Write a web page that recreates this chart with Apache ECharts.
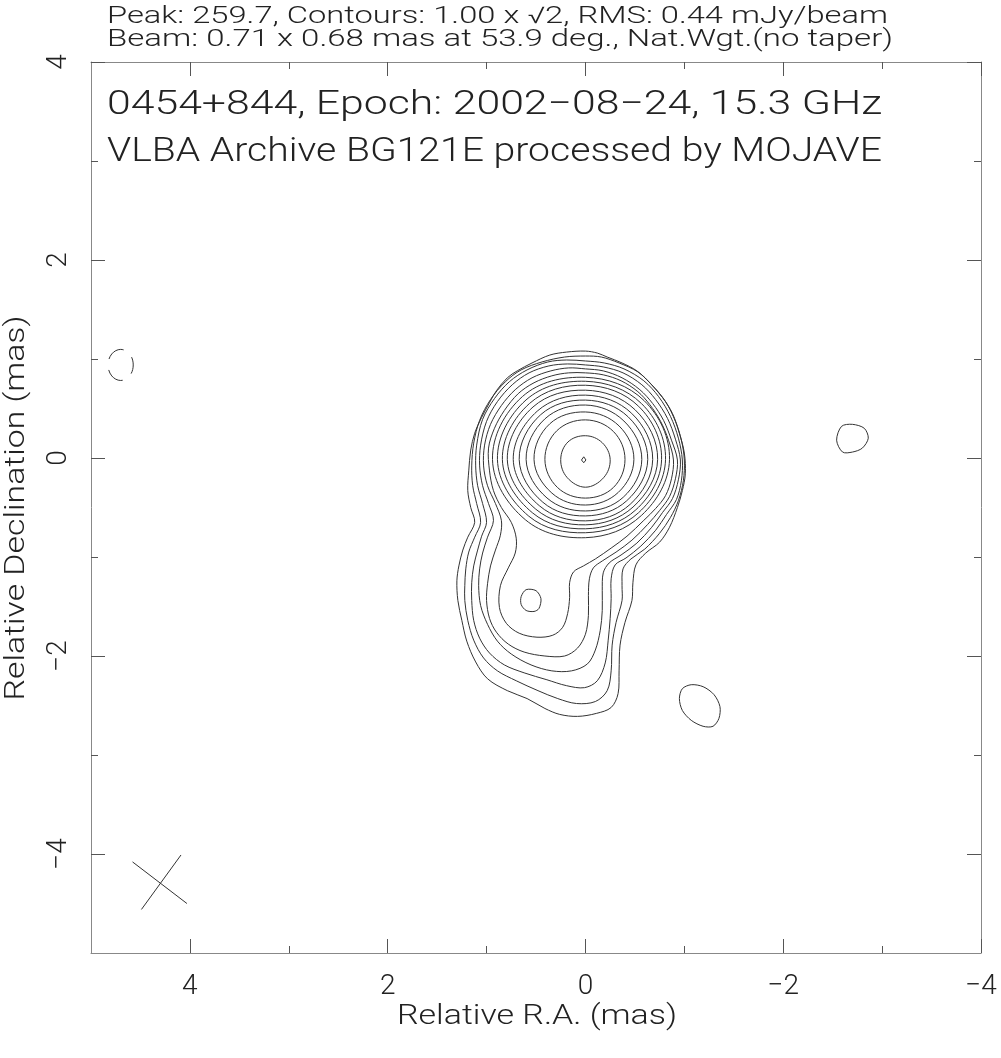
<!DOCTYPE html>
<html><head><meta charset="utf-8">
<script src="https://cdn.jsdelivr.net/npm/echarts@6/dist/echarts.min.js"></script>
<style>html,body{margin:0;padding:0;background:#fff}#c{width:1001px;height:1058px}</style>
</head><body><div id="c"></div>
<script>
// ---- axis ticks / labels ----
const majorTicks = [-4, -2, 0, 2, 4];
const minorTicks = [-3, -1, 1, 3];

// ---- texts ----
const headerLine1 = 'Peak: 259.7, Contours: 1.00 x \u221A2, RMS: 0.44 mJy/beam';
const headerLine2 = 'Beam: 0.71 x 0.68 mas at 53.9 deg., Nat.Wgt.(no taper)';
const innerLine1 = '0454+844, Epoch: 2002\u221208\u221224, 15.3 GHz';
const innerLine2 = 'VLBA Archive BG121E processed by MOJAVE';
const xName = 'Relative R.A. (mas)';
const yName = 'Relative Declination (mas)';

// ---- contour levels (mJy/beam) ----
const ringLevels = [181, 128, 90.5, 64, 45, 32, 22.6, 16, 11.3, 8];
// core ring radii (mas) read in image directions E, NE, N, NW, W, SW, S, SE
const ringCenter = [0.0, -0.015];
const ringRadii = [
  [0.25,0.24,0.24,0.25,0.25,0.26,0.28,0.26],
  [0.40,0.40,0.40,0.41,0.41,0.40,0.39,0.40],
  [0.49,0.48,0.48,0.51,0.52,0.48,0.46,0.47],
  [0.57,0.55,0.55,0.58,0.60,0.55,0.52,0.54],
  [0.63,0.61,0.60,0.64,0.67,0.61,0.57,0.59],
  [0.68,0.66,0.65,0.69,0.73,0.66,0.62,0.64],
  [0.73,0.71,0.70,0.75,0.79,0.71,0.66,0.68],
  [0.77,0.76,0.75,0.80,0.84,0.76,0.70,0.72],
  [0.81,0.80,0.79,0.85,0.89,0.81,0.74,0.76],
  [0.85,0.84,0.83,0.90,0.94,0.86,0.79,0.80]
];
// peak contour 256
const peakContour = [[0.04,-0.02],[0.017,0.012],[-0.005,-0.02],[0.017,-0.048]];
// jet component local contour (8)
const jetContour = [[0.60,-1.33],[0.50,-1.34],[0.45,-1.42],[0.47,-1.52],[0.52,-1.55],[0.60,-1.54],[0.65,-1.48],[0.65,-1.40]];

// envelope contours enclosing core + jet
const contour5_66 = [[0.00,0.86],[-0.18,0.84],[-0.36,0.78],[-0.53,0.67],[-0.65,0.54],[-0.76,0.37],[-0.84,0.18],[-0.89,-0.02],[-0.87,-0.21],[-0.81,-0.38],[-0.71,-0.51],[-0.59,-0.63],[-0.42,-0.79],[-0.26,-0.91],[-0.10,-1.02],[0.02,-1.09],[0.12,-1.15],[0.16,-1.26],[0.16,-1.41],[0.18,-1.57],[0.23,-1.71],[0.33,-1.79],[0.49,-1.81],[0.67,-1.77],[0.80,-1.67],[0.87,-1.51],[0.86,-1.29],[0.78,-1.11],[0.71,-0.96],[0.70,-0.81],[0.75,-0.65],[0.85,-0.50],[0.93,-0.33],[0.97,-0.13],[0.98,0.10],[0.92,0.30],[0.82,0.48],[0.68,0.65],[0.52,0.76],[0.34,0.83],[0.17,0.86]];
const contour4 = [[0.00,0.90],[-0.18,0.88],[-0.37,0.81],[-0.55,0.69],[-0.68,0.55],[-0.79,0.38],[-0.87,0.18],[-0.93,-0.02],[-0.91,-0.21],[-0.85,-0.39],[-0.75,-0.53],[-0.63,-0.67],[-0.47,-0.83],[-0.31,-0.95],[-0.17,-1.04],[-0.08,-1.11],[-0.04,-1.22],[-0.03,-1.39],[-0.03,-1.59],[0.00,-1.78],[0.08,-1.92],[0.21,-2.00],[0.41,-2.00],[0.62,-1.96],[0.78,-1.88],[0.90,-1.76],[0.97,-1.62],[1.00,-1.44],[0.99,-1.27],[0.96,-1.09],[0.91,-0.93],[0.86,-0.78],[0.85,-0.63],[0.91,-0.46],[0.99,-0.28],[1.03,-0.08],[1.02,0.13],[0.96,0.34],[0.85,0.53],[0.71,0.69],[0.54,0.81],[0.35,0.88],[0.17,0.91]];
const contour2_83 = [[0.00,0.94],[-0.18,0.92],[-0.38,0.86],[-0.57,0.74],[-0.71,0.59],[-0.83,0.40],[-0.91,0.19],[-0.96,-0.02],[-0.94,-0.22],[-0.88,-0.41],[-0.78,-0.55],[-0.67,-0.70],[-0.52,-0.86],[-0.36,-0.98],[-0.24,-1.06],[-0.18,-1.16],[-0.17,-1.34],[-0.17,-1.54],[-0.15,-1.74],[-0.10,-1.94],[-0.02,-2.08],[0.14,-2.15],[0.34,-2.15],[0.55,-2.09],[0.75,-1.98],[0.89,-1.85],[0.99,-1.68],[1.06,-1.49],[1.08,-1.29],[1.07,-1.12],[1.04,-0.96],[0.99,-0.80],[0.93,-0.63],[0.98,-0.46],[1.04,-0.28],[1.07,-0.08],[1.06,0.13],[1.00,0.37],[0.89,0.57],[0.74,0.74],[0.57,0.86],[0.37,0.93],[0.18,0.95]];
const contour2 = [[0.00,0.98],[-0.19,0.96],[-0.39,0.90],[-0.59,0.78],[-0.74,0.62],[-0.86,0.42],[-0.94,0.20],[-0.98,-0.02],[-0.97,-0.23],[-0.92,-0.42],[-0.82,-0.57],[-0.71,-0.73],[-0.56,-0.89],[-0.41,-1.01],[-0.30,-1.08],[-0.26,-1.22],[-0.26,-1.42],[-0.25,-1.62],[-0.23,-1.84],[-0.20,-2.07],[-0.12,-2.25],[0.01,-2.32],[0.19,-2.30],[0.39,-2.24],[0.62,-2.17],[0.82,-2.09],[0.97,-1.97],[1.07,-1.82],[1.13,-1.64],[1.15,-1.44],[1.15,-1.26],[1.13,-1.09],[1.09,-0.93],[1.05,-0.79],[1.00,-0.65],[1.04,-0.46],[1.09,-0.28],[1.11,-0.08],[1.10,0.13],[1.04,0.39],[0.92,0.60],[0.77,0.77],[0.59,0.89],[0.38,0.97],[0.19,0.99]];
const contour1_41 = [[0.00,1.03],[-0.16,1.02],[-0.34,0.96],[-0.53,0.87],[-0.67,0.74],[-0.81,0.57],[-0.91,0.37],[-0.97,0.18],[-1.00,-0.02],[-0.99,-0.23],[-0.94,-0.43],[-0.86,-0.60],[-0.75,-0.76],[-0.60,-0.92],[-0.46,-1.02],[-0.38,-1.12],[-0.37,-1.29],[-0.37,-1.44],[-0.31,-1.66],[-0.27,-1.89],[-0.26,-2.15],[-0.22,-2.35],[-0.10,-2.46],[0.09,-2.48],[0.28,-2.43],[0.48,-2.35],[0.70,-2.25],[0.89,-2.15],[1.03,-2.02],[1.13,-1.84],[1.19,-1.64],[1.22,-1.44],[1.22,-1.29],[1.21,-1.12],[1.18,-0.95],[1.12,-0.80],[1.06,-0.65],[1.10,-0.46],[1.14,-0.28],[1.15,-0.08],[1.13,0.15],[1.07,0.38],[0.96,0.59],[0.81,0.77],[0.65,0.89],[0.44,0.97],[0.21,1.02]];
const contour1 = [[0.00,1.08],[-0.12,1.06],[-0.22,1.02],[-0.37,0.96],[-0.52,0.88],[-0.65,0.76],[-0.78,0.61],[-0.88,0.45],[-0.95,0.25],[-1.00,0.05],[-1.01,-0.16],[-0.98,-0.33],[-0.93,-0.50],[-0.85,-0.70],[-0.75,-0.85],[-0.61,-0.96],[-0.51,-1.08],[-0.48,-1.26],[-0.47,-1.44],[-0.40,-1.66],[-0.35,-1.89],[-0.34,-2.15],[-0.33,-2.38],[-0.26,-2.52],[-0.11,-2.58],[0.08,-2.61],[0.26,-2.59],[0.41,-2.53],[0.59,-2.43],[0.79,-2.35],[0.99,-2.23],[1.11,-2.06],[1.20,-1.85],[1.25,-1.64],[1.29,-1.44],[1.30,-1.24],[1.28,-1.09],[1.24,-0.93],[1.19,-0.80],[1.12,-0.65],[1.16,-0.50],[1.19,-0.33],[1.18,-0.13],[1.16,0.08],[1.12,0.25],[1.05,0.41],[0.97,0.56],[0.90,0.68],[0.79,0.81],[0.69,0.88],[0.54,0.96],[0.36,1.04],[0.19,1.07]];

// isolated 1 mJy/beam islands
const islandEast = [[-2.59,0.32],[-2.70,0.34],[-2.82,0.30],[-2.86,0.20],[-2.80,0.10],[-2.70,0.06],[-2.60,0.06],[-2.54,0.18]];
const islandSouth = [[-1.07,-2.29],[-1.19,-2.31],[-1.30,-2.39],[-1.36,-2.51],[-1.35,-2.63],[-1.29,-2.71],[-1.19,-2.71],[-1.07,-2.65],[-0.98,-2.55],[-0.95,-2.43],[-0.98,-2.33]];
// negative contour (-1 mJy/beam), dashed
const negContour = [[4.573,0.94],[4.61,1.051],[4.70,1.097],[4.79,1.051],[4.827,0.94],[4.79,0.829],[4.70,0.783],[4.61,0.829]];
// beam cross
const beamAxis1 = [[4.49,-4.56],[4.09,-4.01]];
const beamAxis2 = [[4.58,-4.08],[4.03,-4.50]];

// ---- build shapes ----
const shapes = [];
ringRadii.forEach(rs => {
  const pts = rs.map((r, k) => {
    const a = k * Math.PI / 4;
    return [ringCenter[0] - r * Math.cos(a), ringCenter[1] + r * Math.sin(a)];
  });
  shapes.push({pts, closed: true, smooth: 0.375});
});
[contour5_66, contour4, contour2_83, contour2, contour1_41, contour1].forEach(c => shapes.push({pts: c, closed: true, smooth: 0.33}));
shapes.push({pts: peakContour, closed: true, smooth: 0});
shapes.push({pts: jetContour, closed: true, smooth: 0.3});
shapes.push({pts: islandEast, closed: true, smooth: 0.3});
shapes.push({pts: islandSouth, closed: true, smooth: 0.3});
shapes.push({pts: negContour, closed: true, smooth: 0.375, dashed: true});
shapes.push({pts: beamAxis1, closed: false, smooth: 0});
shapes.push({pts: beamAxis2, closed: false, smooth: 0});

const FF = 'Roboto', FW = 300, TXT = '#222';
const minus = v => (v < 0 ? '\u2212' + (-v) : String(v));
function fit(text, size, target) {
  const ctx = document.createElement('canvas').getContext('2d');
  ctx.font = FW + ' ' + size + 'px ' + FF;
  return target / ctx.measureText(text).width;
}
function gtext(text, x, y, size, target, align, rot) {
  return {type: 'text', x: x, y: y, rotation: rot || 0, scaleX: fit(text, size, target), silent: true,
    style: {text: text, fontSize: size, fontFamily: FF, fontWeight: FW, fill: TXT, align: align || 'left', verticalAlign: 'middle'}};
}

function xAxisDef(pos, ticks, len, labels, line) {
  return {type: 'value', min: -4, max: 5, inverse: true, position: pos, gridIndex: 0,
    axisLine: {show: line, onZero: false, lineStyle: {color: '#888', width: 1}},
    axisTick: {show: true, inside: true, length: len, customValues: ticks, lineStyle: {color: '#555', width: 1}},
    axisLabel: labels ? {show: true, customValues: majorTicks, formatter: minus, fontSize: 28, fontFamily: FF, fontWeight: FW, color: TXT, margin: 20} : {show: false},
    splitLine: {show: false}, minorTick: {show: false}};
}
function yAxisDef(pos, ticks, len, labels, line) {
  return {type: 'value', min: -5, max: 4, position: pos, gridIndex: 0,
    axisLine: {show: line, onZero: false, lineStyle: {color: '#888', width: 1}},
    axisTick: {show: true, inside: true, length: len, customValues: ticks, lineStyle: {color: '#555', width: 1}},
    axisLabel: labels ? {show: true, customValues: majorTicks, formatter: minus, rotate: 90, fontSize: 28, fontFamily: FF, fontWeight: FW, color: TXT, margin: 18} : {show: false},
    splitLine: {show: false}, minorTick: {show: false}};
}

const xa = [xAxisDef('bottom', majorTicks, 14, true, true), xAxisDef('bottom', minorTicks, 7, false, false),
            xAxisDef('top', majorTicks, 14, false, true), xAxisDef('top', minorTicks, 7, false, false)];
const ya = [yAxisDef('left', majorTicks, 14, true, true), yAxisDef('left', minorTicks, 7, false, false),
            yAxisDef('right', majorTicks, 14, false, true), yAxisDef('right', minorTicks, 7, false, false)];

const chart = echarts.init(document.getElementById('c'), null, {renderer: 'canvas'});
chart.setOption({
  animation: false,
  backgroundColor: '#fff',
  grid: {left: 91, right: 20, top: 62, bottom: 105, containLabel: false},
  xAxis: xa,
  yAxis: ya,
  graphic: [
    gtext(headerLine1, 107, 17, 23, 781),
    gtext(headerLine2, 107, 40, 23, 786),
    gtext(innerLine1, 107, 106, 33, 775),
    gtext(innerLine2, 107, 153, 33, 775),
    gtext(xName, 537, 1017, 27, 280, 'center'),
    gtext(yName, 17, 508, 27, 385, 'center', Math.PI / 2)
  ],
  series: [{
    type: 'custom', coordinateSystem: 'cartesian2d', xAxisIndex: 0, yAxisIndex: 0, silent: true,
    data: shapes.map((s, i) => [s.pts[0][0], s.pts[0][1], i]),
    renderItem: function (params, api) {
      const s = shapes[params.dataIndex];
      const pts = s.pts.map(p => api.coord(p));
      return {type: s.closed ? 'polygon' : 'polyline',
        shape: {points: pts, smooth: s.smooth},
        style: {fill: 'none', stroke: '#333', lineWidth: 1,
          lineDash: s.dashed ? [19, 11] : null, lineDashOffset: s.dashed ? 11 : 0}};
    }
  }]
});
</script></body></html>
